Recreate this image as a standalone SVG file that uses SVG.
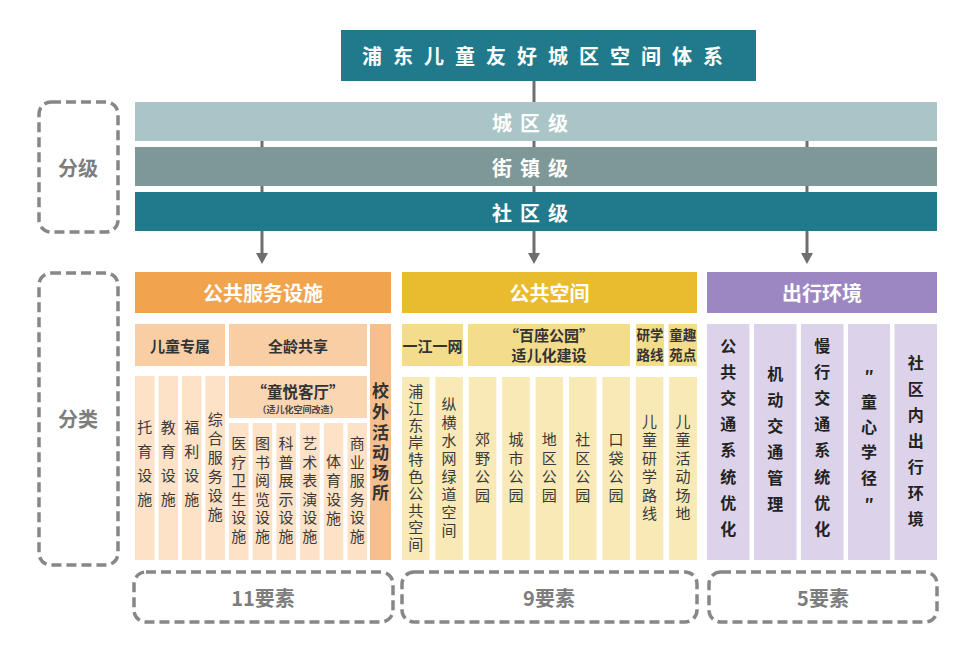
<svg xmlns="http://www.w3.org/2000/svg" width="973" height="660" viewBox="0 0 973 660">
<style>
text{font-family:"Noto Sans CJK SC","Noto Sans",sans-serif;text-anchor:middle;dominant-baseline:central}
.hd{font-size:20px;font-weight:bold;fill:#fff}
.lv{font-size:20px;font-weight:bold;fill:#fff;letter-spacing:8px}
.sub{font-size:15px;font-weight:bold;fill:#333}
.col{font-size:15px;fill:#3a3a3a}
.colb{font-size:16px;font-weight:bold;fill:#222}
.lab{font-size:20px;font-weight:bold;fill:#7d7d7d}
.dash{fill:none;stroke:#878787;stroke-width:3.5;stroke-dasharray:10 5}
.o1{fill:#f1a34e}.o2{fill:#f9cea5}.o3{fill:#fde2c7}.o4{fill:#f7bf8b}.o5{fill:#fbd6b3}
.y1{fill:#e8bc2e}.y2{fill:#f4dc8d}.y3{fill:#f8e9b6}
.p1{fill:#9c87c2}.p3{fill:#dcd3ea}
.arr{stroke:#6e6e6e;stroke-width:3;fill:none}
.ah{fill:#6e6e6e}
</style>
<rect width="973" height="660" fill="#fff"/>
<g id="connectors">
<line class="arr" x1="534" y1="81" x2="534" y2="255"/>
<polygon class="ah" points="528,253 540,253 534,264"/>
<line class="arr" x1="262" y1="141" x2="262" y2="255"/>
<polygon class="ah" points="256,253 268,253 262,264"/>
<line class="arr" x1="807" y1="141" x2="807" y2="255"/>
<polygon class="ah" points="801,253 813,253 807,264"/>
</g>
<g id="title">
<rect x="341" y="30" width="415" height="51" fill="#217a8b"/>
<text x="548" y="55" style="font-size:20px;font-weight:bold;fill:#fff;letter-spacing:11px">浦东儿童友好城区空间体系</text>
</g>
<g id="level-city"><rect x="135" y="102" width="802" height="39" fill="#a9c5c7"/><text class="lv" x="534" y="122">城区级</text></g>
<g id="level-street"><rect x="135" y="147" width="802" height="39" fill="#7e9898"/><text class="lv" x="534" y="167">街镇级</text></g>
<g id="level-community"><rect x="135" y="192" width="802" height="39" fill="#217a8b"/><text class="lv" x="534" y="212">社区级</text></g>
<g id="label-fenji"><rect class="dash" x="39" y="102" width="79" height="130" rx="12"/><text class="lab" x="78" y="167">分级</text></g>
<g id="label-fenlei"><rect class="dash" x="39" y="273" width="79" height="292" rx="12"/><text class="lab" x="78" y="418">分类</text></g>

<g id="public-service">
<rect class="o1" x="135" y="272" width="256" height="41"/>
<text class="hd" x="263" y="292">公共服务设施</text>
<rect class="o2" x="135" y="324" width="90" height="42"/>
<text class="sub" x="180" y="345">儿童专属</text>
<rect class="o2" x="229" y="324" width="138" height="42"/>
<text class="sub" x="298" y="345">全龄共享</text>
<rect class="o4" x="370" y="324" width="21" height="236"/>
<text style="font-size:17px;font-weight:bold;fill:#333"><tspan x="380.5" y="389">校</tspan><tspan x="380.5" y="410">外</tspan><tspan x="380.5" y="431">活</tspan><tspan x="380.5" y="451">动</tspan><tspan x="380.5" y="471">场</tspan><tspan x="380.5" y="491">所</tspan></text>
<rect class="o5" x="229" y="376" width="138" height="42"/>
<text style="font-size:15.5px;font-weight:bold;fill:#333" x="298" y="390.5">“童悦客厅”</text>
<text style="font-size:9px;font-weight:bold;fill:#444" x="298" y="409">（适儿化空间改造）</text>
<rect class="o3" x="135" y="376" width="19.5" height="184"/>
<rect class="o3" x="158.5" y="376" width="19.5" height="184"/>
<rect class="o3" x="182" y="376" width="19.5" height="184"/>
<rect class="o3" x="205.5" y="376" width="19.5" height="184"/>
<text class="col"><tspan x="144.7" y="426">托</tspan><tspan x="144.7" y="450">育</tspan><tspan x="144.7" y="474">设</tspan><tspan x="144.7" y="498">施</tspan></text>
<text class="col"><tspan x="168.2" y="426">教</tspan><tspan x="168.2" y="450">育</tspan><tspan x="168.2" y="474">设</tspan><tspan x="168.2" y="498">施</tspan></text>
<text class="col"><tspan x="191.7" y="426">福</tspan><tspan x="191.7" y="450">利</tspan><tspan x="191.7" y="474">设</tspan><tspan x="191.7" y="498">施</tspan></text>
<text class="col"><tspan x="215.2" y="418">综</tspan><tspan x="215.2" y="437">合</tspan><tspan x="215.2" y="456">服</tspan><tspan x="215.2" y="475">务</tspan><tspan x="215.2" y="494">设</tspan><tspan x="215.2" y="513">施</tspan></text>
<rect class="o3" x="229" y="423" width="19.5" height="137"/>
<rect class="o3" x="252.7" y="423" width="19.5" height="137"/>
<rect class="o3" x="276.4" y="423" width="19.5" height="137"/>
<rect class="o3" x="300.1" y="423" width="19.5" height="137"/>
<rect class="o3" x="323.8" y="423" width="19.5" height="137"/>
<rect class="o3" x="347.5" y="423" width="19.5" height="137"/>
<text class="col"><tspan x="238.7" y="442">医</tspan><tspan x="238.7" y="460.6">疗</tspan><tspan x="238.7" y="479.2">卫</tspan><tspan x="238.7" y="497.8">生</tspan><tspan x="238.7" y="516.4">设</tspan><tspan x="238.7" y="535">施</tspan></text>
<text class="col"><tspan x="262.4" y="442">图</tspan><tspan x="262.4" y="460.6">书</tspan><tspan x="262.4" y="479.2">阅</tspan><tspan x="262.4" y="497.8">览</tspan><tspan x="262.4" y="516.4">设</tspan><tspan x="262.4" y="535">施</tspan></text>
<text class="col"><tspan x="286.1" y="442">科</tspan><tspan x="286.1" y="460.6">普</tspan><tspan x="286.1" y="479.2">展</tspan><tspan x="286.1" y="497.8">示</tspan><tspan x="286.1" y="516.4">设</tspan><tspan x="286.1" y="535">施</tspan></text>
<text class="col"><tspan x="309.8" y="442">艺</tspan><tspan x="309.8" y="460.6">术</tspan><tspan x="309.8" y="479.2">表</tspan><tspan x="309.8" y="497.8">演</tspan><tspan x="309.8" y="516.4">设</tspan><tspan x="309.8" y="535">施</tspan></text>
<text class="col"><tspan x="333.5" y="460">体</tspan><tspan x="333.5" y="479">育</tspan><tspan x="333.5" y="498">设</tspan><tspan x="333.5" y="517">施</tspan></text>
<text class="col"><tspan x="357.2" y="442">商</tspan><tspan x="357.2" y="460.6">业</tspan><tspan x="357.2" y="479.2">服</tspan><tspan x="357.2" y="497.8">务</tspan><tspan x="357.2" y="516.4">设</tspan><tspan x="357.2" y="535">施</tspan></text>
</g>

<g id="public-space">
<rect class="y1" x="402" y="272" width="295" height="41"/>
<text class="hd" x="549.5" y="292">公共空间</text>
<rect class="y2" x="402" y="324" width="61" height="42"/>
<text class="sub" x="432.5" y="345">一江一网</text>
<rect class="y2" x="468" y="324" width="162" height="42"/>
<text class="sub" x="549" y="334">“百座公园”</text>
<text class="sub" x="549" y="354">适儿化建设</text>
<rect class="y2" x="636" y="324" width="28" height="42"/>
<text class="sub" style="font-size:13.5px" x="650" y="334">研学</text>
<text class="sub" style="font-size:13.5px" x="650" y="354">路线</text>
<rect class="y2" x="668.5" y="324" width="28.5" height="42"/>
<text class="sub" style="font-size:13.5px" x="682.7" y="334">童趣</text>
<text class="sub" style="font-size:13.5px" x="682.7" y="354">苑点</text>
<rect class="y3" x="402" y="377" width="27.5" height="183"/>
<rect class="y3" x="435.4" y="377" width="27.5" height="183"/>
<rect class="y3" x="468.8" y="377" width="27.5" height="183"/>
<rect class="y3" x="502.2" y="377" width="27.5" height="183"/>
<rect class="y3" x="535.6" y="377" width="27.5" height="183"/>
<rect class="y3" x="569" y="377" width="27.5" height="183"/>
<rect class="y3" x="602.4" y="377" width="27.5" height="183"/>
<rect class="y3" x="635.8" y="377" width="27.5" height="183"/>
<rect class="y3" x="669.2" y="377" width="27.8" height="183"/>
<text class="col"><tspan x="415.7" y="390">浦</tspan><tspan x="415.7" y="407">江</tspan><tspan x="415.7" y="424">东</tspan><tspan x="415.7" y="441">岸</tspan><tspan x="415.7" y="458">特</tspan><tspan x="415.7" y="475">色</tspan><tspan x="415.7" y="492">公</tspan><tspan x="415.7" y="509">共</tspan><tspan x="415.7" y="526">空</tspan><tspan x="415.7" y="543">间</tspan></text>
<text class="col"><tspan x="449.1" y="403">纵</tspan><tspan x="449.1" y="421">横</tspan><tspan x="449.1" y="439">水</tspan><tspan x="449.1" y="457">网</tspan><tspan x="449.1" y="475">绿</tspan><tspan x="449.1" y="493">道</tspan><tspan x="449.1" y="511">空</tspan><tspan x="449.1" y="529">间</tspan></text>
<text class="col"><tspan x="482.5" y="438">郊</tspan><tspan x="482.5" y="456.5">野</tspan><tspan x="482.5" y="475">公</tspan><tspan x="482.5" y="493.5">园</tspan></text>
<text class="col"><tspan x="515.9" y="438">城</tspan><tspan x="515.9" y="456.5">市</tspan><tspan x="515.9" y="475">公</tspan><tspan x="515.9" y="493.5">园</tspan></text>
<text class="col"><tspan x="549.3" y="438">地</tspan><tspan x="549.3" y="456.5">区</tspan><tspan x="549.3" y="475">公</tspan><tspan x="549.3" y="493.5">园</tspan></text>
<text class="col"><tspan x="582.7" y="438">社</tspan><tspan x="582.7" y="456.5">区</tspan><tspan x="582.7" y="475">公</tspan><tspan x="582.7" y="493.5">园</tspan></text>
<text class="col"><tspan x="616.1" y="438">口</tspan><tspan x="616.1" y="456.5">袋</tspan><tspan x="616.1" y="475">公</tspan><tspan x="616.1" y="493.5">园</tspan></text>
<text class="col"><tspan x="649.5" y="420">儿</tspan><tspan x="649.5" y="438.4">童</tspan><tspan x="649.5" y="456.8">研</tspan><tspan x="649.5" y="475.2">学</tspan><tspan x="649.5" y="493.6">路</tspan><tspan x="649.5" y="512">线</tspan></text>
<text class="col"><tspan x="683" y="420">儿</tspan><tspan x="683" y="438.4">童</tspan><tspan x="683" y="456.8">活</tspan><tspan x="683" y="475.2">动</tspan><tspan x="683" y="493.6">场</tspan><tspan x="683" y="512">地</tspan></text>
</g>

<g id="travel">
<rect class="p1" x="707" y="272" width="230" height="41"/>
<text class="hd" x="822" y="292">出行环境</text>
<rect class="p3" x="707" y="324" width="42.5" height="236"/>
<rect class="p3" x="754" y="324" width="42.5" height="236"/>
<rect class="p3" x="801" y="324" width="42.5" height="236"/>
<rect class="p3" x="848" y="324" width="42" height="236"/>
<rect class="p3" x="894.5" y="324" width="42.5" height="236"/>
<text class="colb"><tspan x="728.2" y="345">公</tspan><tspan x="728.2" y="371.1">共</tspan><tspan x="728.2" y="397.2">交</tspan><tspan x="728.2" y="423.3">通</tspan><tspan x="728.2" y="449.4">系</tspan><tspan x="728.2" y="475.5">统</tspan><tspan x="728.2" y="501.6">优</tspan><tspan x="728.2" y="527.7">化</tspan></text>
<text class="colb"><tspan x="775.2" y="373">机</tspan><tspan x="775.2" y="399">动</tspan><tspan x="775.2" y="425">交</tspan><tspan x="775.2" y="451">通</tspan><tspan x="775.2" y="477">管</tspan><tspan x="775.2" y="503">理</tspan></text>
<text class="colb"><tspan x="822.2" y="345">慢</tspan><tspan x="822.2" y="371.1">行</tspan><tspan x="822.2" y="397.2">交</tspan><tspan x="822.2" y="423.3">通</tspan><tspan x="822.2" y="449.4">系</tspan><tspan x="822.2" y="475.5">统</tspan><tspan x="822.2" y="501.6">优</tspan><tspan x="822.2" y="527.7">化</tspan></text>
<text class="colb"><tspan x="869" y="375">″</tspan><tspan x="869" y="401">童</tspan><tspan x="869" y="426">心</tspan><tspan x="869" y="451">学</tspan><tspan x="869" y="477">径</tspan><tspan x="869" y="503">″</tspan></text>
<text class="colb"><tspan x="915.7" y="362">社</tspan><tspan x="915.7" y="388">区</tspan><tspan x="915.7" y="414">内</tspan><tspan x="915.7" y="440">出</tspan><tspan x="915.7" y="466">行</tspan><tspan x="915.7" y="492">环</tspan><tspan x="915.7" y="518">境</tspan></text>
</g>

<g id="count-11"><rect class="dash" x="134" y="572" width="259" height="50" rx="12"/><text class="lab" x="263" y="597">11要素</text></g>
<g id="count-9"><rect class="dash" x="402" y="572" width="295" height="50" rx="12"/><text class="lab" x="549" y="597">9要素</text></g>
<g id="count-5"><rect class="dash" x="709" y="572" width="228" height="50" rx="12"/><text class="lab" x="823" y="597">5要素</text></g>
</svg>
